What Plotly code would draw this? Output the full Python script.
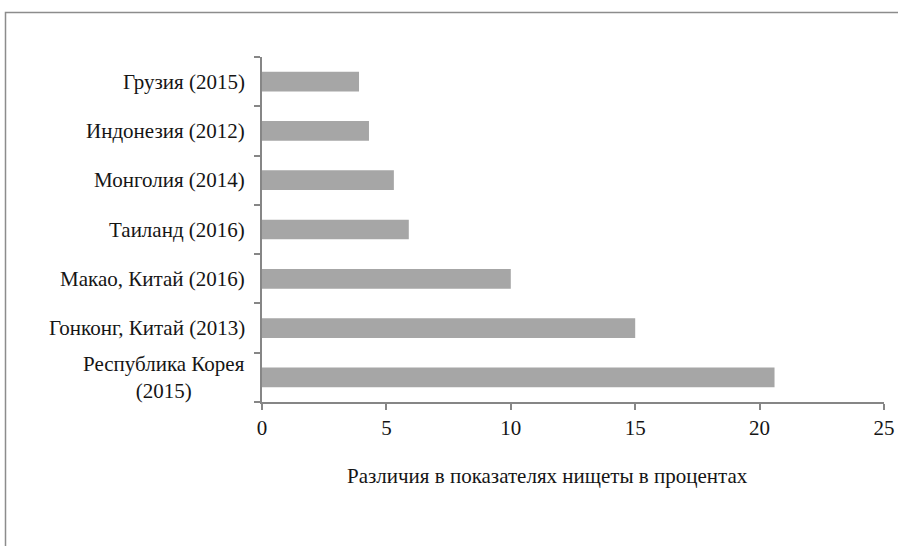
import plotly.graph_objects as go

# Categories listed bottom-to-top (Plotly places the first category at the bottom)
countries = [
    "Республика Корея<br>(2015)",
    "Гонконг, Китай (2013)",
    "Макао, Китай (2016)",
    "Таиланд (2016)",
    "Монголия (2014)",
    "Индонезия (2012)",
    "Грузия (2015)",
]
poverty_gap = [20.6, 15.0, 10.0, 5.9, 5.3, 4.3, 3.9]
x_ticks = [0, 5, 10, 15, 20, 25]
x_title = "Различия в показателях нищеты в процентах"

W, H = 898, 546
L, R, T, B = 262, 14, 57, 144
plot_w = W - L - R
plot_h = H - T - B

FONT = "Liberation Serif"
FS = 21
TXT = "#151515"
AXIS_COLOR = "#868686"

fig = go.Figure(
    go.Bar(
        x=poverty_gap,
        y=list(range(len(countries))),
        orientation="h",
        marker=dict(color="#a6a6a6", line=dict(width=0)),
        hoverinfo="x",
    )
)

# Category labels as annotations so the two-line label stays centred
annotations = []
for i, name in enumerate(countries):
    annotations.append(dict(
        x=0, xref="paper", xshift=-15, xanchor="right",
        y=i, yref="y", yanchor="middle",
        text=name, showarrow=False, align="center",
        font=dict(family=FONT, size=FS, color=TXT),
    ))

annotations.append(dict(
    x=(547 - L) / plot_w, xref="paper", xanchor="center",
    y=-(476 - (T + plot_h)) / plot_h, yref="paper", yanchor="middle",
    text=x_title, showarrow=False,
    font=dict(family=FONT, size=FS, color=TXT),
))

# Outer frame (right and bottom edges run past the page)
shapes = [dict(
    type="rect", xref="paper", yref="paper",
    x0=(5.5 - L) / plot_w, x1=(W + 20 - L) / plot_w,
    y0=-(H + 20 - T - plot_h) / plot_h, y1=(plot_h + T - 12.5) / plot_h,
    line=dict(color="#8c8c8c", width=1.5),
    fillcolor="rgba(0,0,0,0)", layer="below",
)]

fig.update_layout(
    width=W, height=H,
    margin=dict(l=L, r=R, t=T, b=B, autoexpand=False),
    paper_bgcolor="white", plot_bgcolor="white",
    bargap=0.6,
    showlegend=False,
    font=dict(family=FONT, size=FS, color=TXT),
    annotations=annotations,
    shapes=shapes,
    xaxis=dict(
        range=[0, 25],
        tickvals=x_ticks,
        ticks="outside", ticklen=6, tickcolor=AXIS_COLOR, tickwidth=1.5,
        showline=True, linecolor=AXIS_COLOR, linewidth=1.5,
        showgrid=False, zeroline=False, automargin=False,
        tickfont=dict(family=FONT, size=FS, color=TXT),
    ),
    yaxis=dict(
        type="category",
        range=[-0.5, len(countries) - 0.5],
        tickmode="array", tickvals=list(range(len(countries))),
        ticktext=[""] * len(countries),
        tickson="boundaries",
        ticks="outside", ticklen=6, tickcolor=AXIS_COLOR, tickwidth=1.5,
        showline=True, linecolor=AXIS_COLOR, linewidth=1.5,
        showgrid=False, zeroline=False, automargin=False,
    ),
)

fig.write_html("out.html")
